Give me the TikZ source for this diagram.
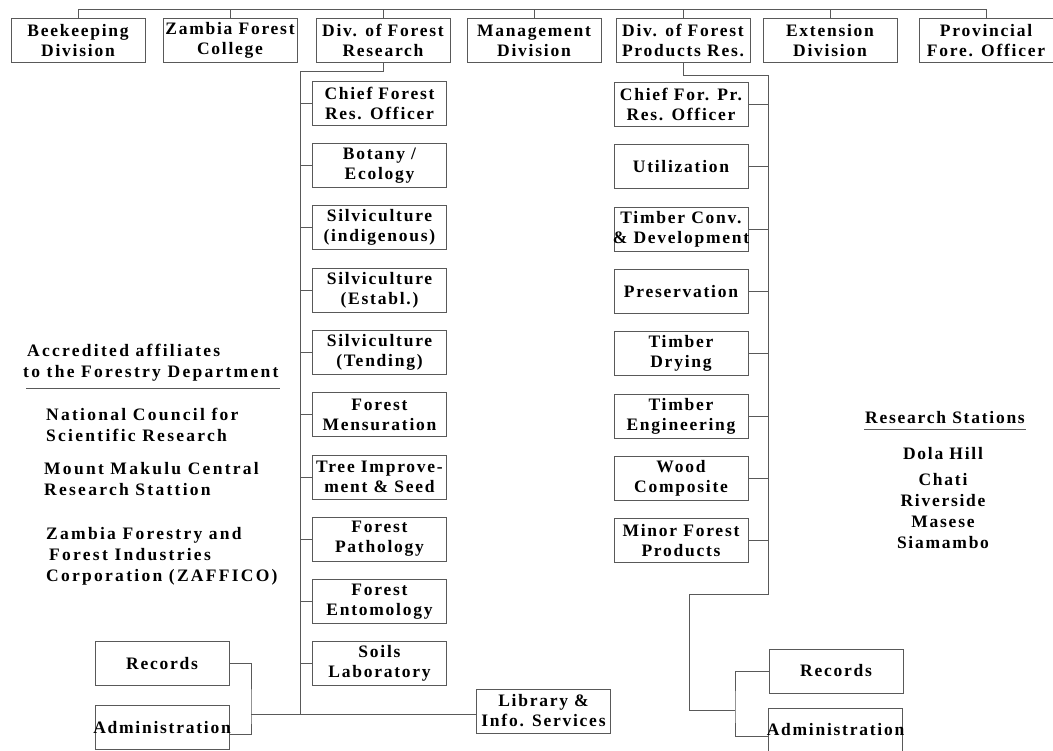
\documentclass[tikz,border=0pt]{standalone}
\usepackage{fontspec}
\setmainfont{Liberation Serif}[LetterSpace=10]
\newfontfamily\sidefont{Liberation Serif}[LetterSpace=13]
\newcommand\cln[1]{\hbox to 0pt{\hss#1\hss}}

\begin{document}
\begin{tikzpicture}[x=1pt, y=-1pt, font=\fontsize{17.5}{20}\selectfont\bfseries,
  box/.style={draw=black!65, line width=0.6pt, minimum width=134pt, minimum height=44pt, inner sep=1pt, align=center},
  link/.style={black!65, line width=0.6pt},
  side/.style={inner sep=1pt, anchor=west, align=left, font=\sidefont\fontsize{17.5}{21}\selectfont\bfseries}]
\useasboundingbox (0,0) rectangle (1053,751);
% top row
\node[box] (bee)  at (78,40.5)  {Beekeeping\\Division};
\node[box] (zfc)  at (230,40.5) {\cln{Zambia Forest}\\\cln{College}};
\node[box] (dfr)  at (383,40.5) {\cln{Div. of Forest}\\Research};
\node[box] (mgmt) at (534,40.5) {Management\\Division};
\node[box] (dfp)  at (683,40.5) {\cln{Div. of Forest}\\\cln{Products Res.}};
\node[box] (ext)  at (830,40.5) {Extension\\Division};
\node[box] (pfo)  at (986,40.5) {\cln{Provincial}\\\cln{Fore. Officer}};
\coordinate (bus) at (0,9);
\draw[link] (bee.north) -- (bee.north |- bus) -- (pfo.north |- bus) -- (pfo.north);
\foreach \n in {zfc,dfr,mgmt,dfp,ext}
  \draw[link] (\n.north) -- (\n.north |- bus);
% forest research column
\node[box] (cfro)  at (379.5,103)   {Chief Forest\\Res. Officer};
\node[box] (bot)   at (379.5,165.3) {Botany /\\Ecology};
\node[box] (silvi) at (379.5,227.6) {Silviculture\\(indigenous)};
\node[box] (silve) at (379.5,289.9) {Silviculture\\(Establ.)};
\node[box] (silvt) at (379.5,352.2) {Silviculture\\(Tending)};
\node[box] (mens)  at (379.5,414.5) {Forest\\Mensuration};
\node[box] (tree)  at (379.5,476.8) {\cln{Tree Improve-}\\\cln{ment \& Seed}};
\node[box] (path)  at (379.5,539.1) {Forest\\Pathology};
\node[box] (ento)  at (379.5,601.4) {Forest\\Entomology};
\node[box] (soil)  at (379.5,663.7) {Soils\\Laboratory};
\coordinate (rtop) at (300,71);
\coordinate (rend) at (300,714);
\draw[link] (dfr.south) |- (rtop) -- (rend);
\foreach \n in {cfro,bot,silvi,silve,silvt,mens,tree,path,ento,soil}
  \draw[link] (\n.west) -- (\n.west -| rtop);
% forest products column
\node[box] (cfpo)  at (681,104.5) {\cln{Chief For. Pr.}\\Res. Officer};
\node[box] (util)  at (681,166.8) {Utilization};
\node[box] (tconv) at (681,229.1) {\cln{Timber Conv.}\\\cln{\& Development}};
\node[box] (pres)  at (681,291.4) {Preservation};
\node[box] (tdry)  at (681,353.7) {Timber\\Drying};
\node[box] (teng)  at (681,416)   {Timber\\Engineering};
\node[box] (wood)  at (681,478.3) {Wood\\Composite};
\node[box] (minor) at (681,540.6) {Minor Forest\\Products};
\coordinate (ptop) at (768,75);
\coordinate (pbend) at (768,594);
\coordinate (pjog) at (689,710);
\coordinate (pfork) at (735,710);
\draw[link] (dfp.south) |- (ptop) -- (pbend) -| (pjog) -- (pfork);
\foreach \n in {cfpo,util,tconv,pres,tdry,teng,wood,minor}
  \draw[link] (\n.east) -- (\n.east -| ptop);
% records and administration
\node[box] (rrec) at (836,671)   {Records};
\node[box] (radm) at (835.5,730) {\cln{Administration}};
\draw[link] (rrec.west) -| (pfork) |- ([yshift=-6pt]radm.west);
\node[box] (lrec) at (162,663.5) {Records};
\node[box] (ladm) at (162,727.5) {\cln{Administration}};
\node[box] (lib)  at (543.5,711) {\cln{Library \&}\\\cln{Info. Services}};
\coordinate (lfork) at (251,714);
\draw[link] (lrec.east) -| (lfork) |- ([yshift=-7pt]ladm.east);
\draw[link] (lfork) -- (lib.west |- lfork);
% affiliates
\node[side] (aff) at (22,363) {\hspace*{4pt}Accredited affiliates\\to the Forestry Department};
\draw[link] ([shift={(4pt,-6pt)}]aff.south west) -- ([yshift=-6pt]aff.south east);
\node[side] (ncsr) at (45,425) {National Council for\\Scientific Research};
\node[side] (mmcr) at (43,479.5) {Mount Makulu Central\\Research Stattion};
\node[side] (zaf)  at (45,556) {Zambia Forestry and\\\hspace*{3pt}Forest Industries\\Corporation (ZAFFICO)};
% research stations
\node[inner sep=1pt] (sthead) at (945,418) {Research Stations};
\draw[link] ([yshift=-4pt]sthead.south west) -- ([yshift=-4pt]sthead.south east);
\node[inner sep=1pt, align=center, font=\fontsize{17.5}{21}\selectfont\bfseries] (stlist) at (943,498.5) {Dola Hill\\[5pt]Chati\\Riverside\\Masese\\Siamambo};
\end{tikzpicture}
\end{document}
